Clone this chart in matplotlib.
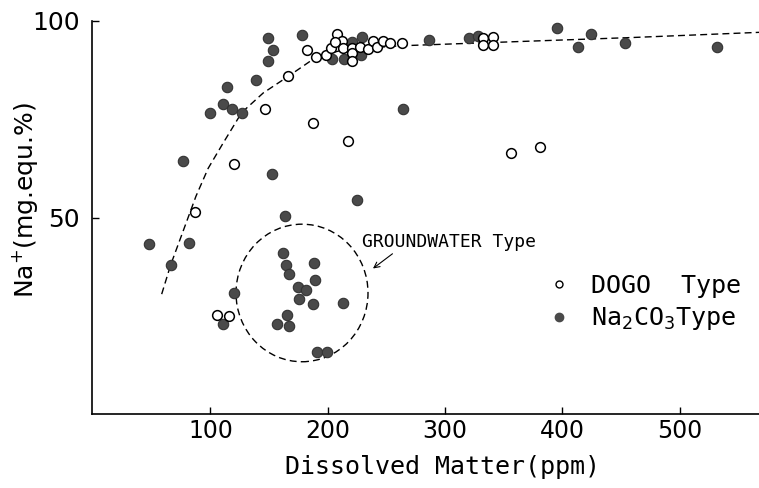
import matplotlib
matplotlib.use("Agg")
import matplotlib.pyplot as plt
from matplotlib.patches import Ellipse
from matplotlib.lines import Line2D

# DOGO type samples (open circles)
dogo_x = [182.0, 189.7, 198.2, 207.6, 202.7, 211.9, 206.1, 212.7, 220.4, 220.4,
          220.4, 227.5, 234.5, 238.3, 241.7, 247.3, 253.0, 263.3, 332.6, 332.6,
          341.1, 341.1, 166.3, 146.5, 187.0, 217.5, 120.3, 86.8, 105.8, 116.0,
          356.4, 380.9]
dogo_y = [92.5, 90.9, 91.4, 96.6, 93.2, 95.0, 94.7, 93.2, 93.2, 91.8,
          89.9, 93.5, 92.8, 95.0, 93.5, 95.0, 94.3, 94.3, 95.6, 93.9,
          95.9, 93.9, 86.1, 77.7, 74.0, 69.4, 63.5, 51.5, 25.2, 25.0,
          66.5, 68.0]

# Na2CO3 type samples (filled circles)
na_x = [148.8, 153.0, 148.8, 178.0, 138.5, 114.1, 110.7, 99.8, 118.6, 126.6,
        76.3, 152.4, 203.8, 213.8, 229.4, 220.4, 228.3, 286.3, 320.6, 328.3,
        395.7, 413.0, 424.4, 453.4, 531.5, 263.9, 47.6, 81.9, 66.1, 120.3,
        110.7, 163.5, 162.1, 164.4, 166.7, 174.6, 181.4, 175.5, 188.0, 189.3,
        187.6, 213.2, 165.0, 156.7, 166.7, 191.0, 199.6, 225.2]
na_y = [95.6, 92.6, 89.8, 96.5, 85.0, 83.3, 78.8, 76.7, 77.5, 76.7,
        64.4, 61.0, 90.4, 90.3, 96.0, 94.7, 91.4, 95.2, 95.6, 96.2,
        98.3, 93.3, 96.6, 94.5, 93.5, 77.7, 43.2, 43.6, 37.9, 30.9,
        22.8, 50.3, 41.0, 37.9, 35.5, 32.3, 31.5, 29.2, 38.4, 34.0,
        27.9, 28.3, 25.3, 22.9, 22.5, 15.8, 15.7, 54.4]

# hand drawn trend curve
curve_x = [58.4, 66, 76, 87.6, 98, 110.9, 126.6, 145, 166.7, 190.5, 215, 263, 347, 460, 575]
curve_y = [30.5, 37.9, 46, 55.4, 62.5, 69, 76.7, 81.7, 86, 90.9, 92.8, 93.7, 94.6, 95.8, 97.2]

x_ticks = [100, 200, 300, 400, 500]
y_ticks = [50, 100]

mono = 'DejaVu Sans Mono'

fig = plt.figure(figsize=(7.59, 4.88), dpi=100)
ax = fig.add_axes([0.1212, 0.1516, 0.8788, 0.8054])

ax.plot(curve_x, curve_y, color='black', lw=1.0, dashes=(5, 3), zorder=1)

ax.plot(dogo_x, dogo_y, 'o', ms=7, mfc='white', mec='black', mew=1.1, zorder=3)
ax.plot(na_x, na_y, 'o', ms=7.5, mfc='#4a4a4a', mec='#333333', mew=0.8, zorder=2)

# groundwater type ellipse
ax.add_patch(Ellipse((178, 30.8), 112.5, 35, fill=False, ec='black', lw=1.0,
                     ls=(0, (5, 3)), zorder=1))
ax.text(229, 43.7, "GROUNDWATER Type", fontsize=13, va='center', ha='left',
        family=mono)
ax.annotate("", xy=(236.6, 36.6), xytext=(257, 41.2),
            arrowprops=dict(arrowstyle='->', color='black', lw=0.8))

ax.set_xlim(-1, 567.5)
ax.set_ylim(0, 100)
ax.set_xticks(x_ticks)
ax.set_yticks(y_ticks)
ax.tick_params(direction='in', length=5, width=1, labelsize=17)
ax.tick_params(axis='y', labelsize=18, pad=9)
for s in ['top', 'right']:
    ax.spines[s].set_visible(False)
for s in ['left', 'bottom']:
    ax.spines[s].set_linewidth(1.2)

ax.set_xlabel("Dissolved Matter(ppm)", fontsize=18, family=mono)
ax.xaxis.set_label_coords(0.525, -0.105)
ax.set_ylabel("Na$^{+}$(mg.equ.%)", fontsize=18)
ax.yaxis.set_label_coords(-0.078, 0.545)

handles = [
    Line2D([], [], marker='o', ls='', ms=5, mfc='white', mec='black', mew=1),
    Line2D([], [], marker='o', ls='', ms=6, mfc='#4a4a4a', mec='#4a4a4a'),
]
fig.legend(handles, ["DOGO  Type", "Na$_2$CO$_3$Type"], loc='upper left',
           bbox_to_anchor=(0.69, 0.485), frameon=False,
           prop={'family': mono, 'size': 18},
           handletextpad=0.8, labelspacing=0.3, handlelength=1.0)

fig.savefig("out.png", dpi=100)
